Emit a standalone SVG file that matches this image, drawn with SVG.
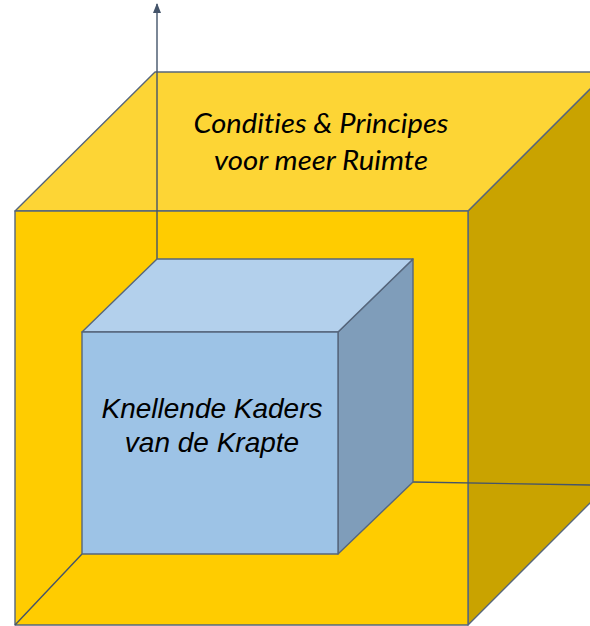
<svg xmlns="http://www.w3.org/2000/svg" width="590" height="626" viewBox="0 0 590 626">
  <defs>
    <marker id="arrow" markerWidth="10" markerHeight="8" refX="9" refY="4" orient="auto" markerUnits="userSpaceOnUse" viewBox="0 0 10 8">
      <path d="M0,0 L10,4 L0,8 Z" fill="#44546A"/>
    </marker>
    <style>
      .edge { stroke: #56667C; stroke-width: 1.4; stroke-linejoin: round; }
      .line { stroke: #44546A; stroke-width: 1.4; fill: none; }
      .yTop { fill: #FDD535; }
      .yFront { fill: #FFCC00; }
      .yRight { fill: #C9A300; }
      .bTop { fill: #B3D0EC; }
      .bFront { fill: #9DC3E6; }
      .bRight { fill: #7F9DBA; }
      .label { font-style: italic; fill: #000000; text-anchor: middle; font-size: 28px; font-variant-ligatures: none; }
      .top { font-family: Lato, 'Open Sans', sans-serif; font-size: 27px; }
      .inner { font-family: 'Liberation Sans', Arial, sans-serif; }
    </style>
  </defs>
  <rect width="590" height="626" fill="#FFFFFF"/>
  <g id="outer-cube">
    <polygon class="yRight edge" points="468,211 607,72 607,486 468,625"/>
    <polygon class="yTop edge" points="15,211 155,72 607,72 468,211"/>
    <rect class="yFront edge" x="15" y="211" width="453" height="414"/>
    <text class="label top" x="321" y="133" textLength="255" lengthAdjust="spacingAndGlyphs">Condities &amp; Principes</text>
    <text class="label top" x="321" y="170" textLength="214" lengthAdjust="spacingAndGlyphs">voor meer Ruimte</text>
  </g>
  <g id="connectors">
    <line class="line" x1="15" y1="625" x2="82" y2="554"/>
    <line class="line" x1="413" y1="482" x2="590" y2="485"/>
    <line class="line" x1="157" y1="259" x2="157" y2="4" marker-end="url(#arrow)"/>
  </g>
  <g id="inner-cube">
    <polygon class="bRight edge" points="338,332 413,259 413,482 338,554"/>
    <polygon class="bTop edge" points="82,332 157,259 413,259 338,332"/>
    <rect class="bFront edge" x="82" y="332" width="256" height="222"/>
    <text class="label inner" x="212" y="418">Knellende Kaders</text>
    <text class="label inner" x="212" y="452">van de Krapte</text>
  </g>
</svg>
